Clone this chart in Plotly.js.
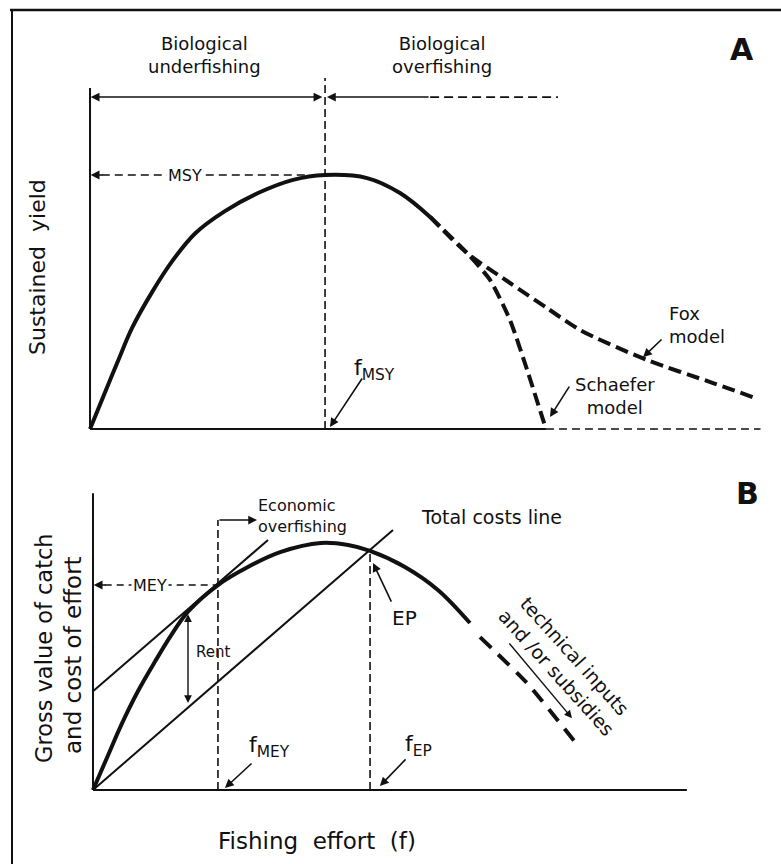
<!DOCTYPE html>
<html>
<head>
<meta charset="utf-8">
<script src="https://cdn.plot.ly/plotly-3.0.1.min.js"></script>
<style>html,body{margin:0;padding:0;background:#fff;}#chart{width:781px;height:864px;}</style>
</head>
<body>
<div id="chart"></div>
<script>
// ---------- Panel A: sustained yield vs fishing effort (effort in units of f_MSY, yield in units of MSY)
const yieldEffortSolid = [0, 0.064, 0.119, 0.179, 0.264, 0.349, 0.447, 0.574, 0.715, 0.860, 1.0, 1.179, 1.319, 1.447];
const yieldSolid       = [0, 0.145, 0.268, 0.398, 0.539, 0.660, 0.770, 0.858, 0.929, 0.980, 1.0, 0.988, 0.929, 0.835];
const schaeferEffort   = [1.447, 1.604, 1.702, 1.787, 1.860, 1.940];
const schaeferYield    = [0.835, 0.693, 0.587, 0.429, 0.232, 0.0];
const foxEffort        = [1.447, 1.604, 1.787, 1.945, 2.085, 2.370, 2.651, 2.843];
const foxYield         = [0.835, 0.693, 0.575, 0.476, 0.390, 0.272, 0.181, 0.118];

// ---------- Panel B: gross value of catch and cost of effort (effort in units of f at max value)
const valueEffortSolid = [0, 0.064, 0.120, 0.192, 0.265, 0.333, 0.406, 0.534, 0.662, 0.803, 0.974, 1.090, 1.184, 1.333, 1.474, 1.611];
const valueSolid       = [0, 0.140, 0.262, 0.400, 0.520, 0.625, 0.722, 0.830, 0.903, 0.964, 1.0, 0.992, 0.968, 0.903, 0.810, 0.676];
const valueEffortDash  = [1.654, 1.855, 2.081];
const valueDash        = [0.619, 0.433, 0.170];
const costEffort       = [0, 1.282];
const costValue        = [0, 1.053];
const tangentEffort    = [0, 0.748];
const tangentValue     = [0.400, 1.012];

// key reference values
const fMSY = 1.0, MSY = 1.0, fSchaeferZero = 1.94, foxEnd = 2.853;
const fMEY = 0.534, MEY = 0.830, fEP = 1.184, EPvalue = 0.968;
const rentEffort = 0.406, rentTop = 0.718, rentBottom = 0.352;

const FONT = '"DejaVu Sans", "Liberation Sans", sans-serif';
const INK = '#111';

const traces = [
  {x: yieldEffortSolid, y: yieldSolid, xaxis:'x', yaxis:'y', mode:'lines',
   line:{color:INK, width:4, shape:'spline', smoothing:1}},
  {x: schaeferEffort, y: schaeferYield, xaxis:'x', yaxis:'y', mode:'lines',
   line:{color:INK, width:4, shape:'spline', smoothing:0.6, dash:'13px,6px'}},
  {x: foxEffort, y: foxYield, xaxis:'x', yaxis:'y', mode:'lines',
   line:{color:INK, width:4, shape:'spline', smoothing:0.8, dash:'13px,6px'}},
  {x: valueEffortSolid, y: valueSolid, xaxis:'x2', yaxis:'y2', mode:'lines',
   line:{color:INK, width:4, shape:'spline', smoothing:1}},
  {x: valueEffortDash, y: valueDash, xaxis:'x2', yaxis:'y2', mode:'lines',
   line:{color:INK, width:4, shape:'spline', smoothing:0.5, dash:'15px,10px'}},
  {x: costEffort, y: costValue, xaxis:'x2', yaxis:'y2', mode:'lines',
   line:{color:INK, width:2}},
  {x: tangentEffort, y: tangentValue, xaxis:'x2', yaxis:'y2', mode:'lines',
   line:{color:INK, width:2}}
];

function seg(xr, yr, x0, y0, x1, y1, w, dash) {
  return {type:'line', xref:xr, yref:yr, x0:x0, y0:y0, x1:x1, y1:y1,
          line:{color:INK, width:w, dash:dash || 'solid'}, layer:'above'};
}

const shapes = [
  // frame
  {type:'line', xref:'paper', yref:'paper', x0:12/781, x1:12/781, y0:1-10/864, y1:0, line:{color:INK, width:2}},
  {type:'line', xref:'paper', yref:'paper', x0:10/781, x1:1, y0:1-10/864, y1:1-10/864, line:{color:INK, width:2.5}},
  // Panel A axes
  seg('x','y', 0, 0, 0, 1.343, 2),
  seg('x','y', 0, 0, fSchaeferZero, 0, 2),
  seg('x','y', fSchaeferZero, 0, foxEnd, 0, 1.6, '8px,5px'),
  seg('x','y', fMSY, 0, fMSY, 1.382, 1.6, '8px,4px'),
  seg('x','y', 0.05, MSY, 0.93, MSY, 1.6, '8px,5px'),
  seg('x','y', 1.447, 1.307, 1.991, 1.307, 1.8, '9px,5px'),
  // Panel B axes
  seg('x2','y2', 0, 0, 0, 1.202, 2),
  seg('x2','y2', 0, 0, 2.538, 0, 2),
  seg('x2','y2', fMEY, 0, fMEY, 1.093, 1.6, '8px,4px'),
  seg('x2','y2', fEP, 0, fEP, EPvalue, 1.6, '8px,4px'),
  seg('x2','y2', 0.05, MEY, fMEY, MEY, 1.6, '7px,5px')
];

function txt(xr, yr, x, y, text, size, extra) {
  return Object.assign({xref:xr, yref:yr, x:x, y:y, text:text, showarrow:false,
    xanchor:'center', yanchor:'middle',
    font:{family:FONT, size:size, color:INK}}, extra || {});
}
function arrow(xr, yr, x, y, ax, ay, extra) {
  return Object.assign({xref:xr, yref:yr, axref:xr, ayref:yr, x:x, y:y, ax:ax, ay:ay,
    text:'', showarrow:true, arrowhead:2, arrowsize:1.1, arrowwidth:1.6, arrowcolor:INK, standoff:0}, extra || {});
}

const annotations = [
  // Panel A labels
  txt('x','y', 0.489, 1.472, 'Biological<br>underfishing', 18),
  txt('x','y', 1.498, 1.472, 'Biological<br>overfishing', 18),
  txt('x','y', 2.774, 1.496, '<b>A</b>', 30),
  txt('x','y', 0.404, MSY, 'MSY', 16, {bgcolor:'#fff'}),
  txt('x','y', 1.209, 0.236, 'f<sub>MSY</sub>', 22),
  txt('x','y', 2.455, 0.409, 'Fox<br>model', 18, {xanchor:'left', align:'left'}),
  txt('x','y', 2.234, 0.130, 'Schaefer<br>model', 18),
  arrow('x','y', 0.003, 1.307, fMSY - 0.005, 1.307, {arrowside:'end+start', startarrowhead:2, startarrowsize:1.1}),
  arrow('x','y', fMSY + 0.008, 1.307, 1.447, 1.307),
  arrow('x','y', 0.003, MSY, 0.06, MSY),
  arrow('x','y', 1.021, 0.008, 1.162, 0.205),
  arrow('x','y', 2.353, 0.283, 2.438, 0.358),
  arrow('x','y', 1.957, 0.047, 2.043, 0.173),
  // Panel B labels
  txt('x2','y2', 0.697, 1.109, 'Economic<br>overfishing', 16, {xanchor:'left', align:'left'}),
  txt('x2','y2', 1.705, 1.105, 'Total costs line', 19),
  txt('x2','y2', 2.799, 1.202, '<b>B</b>', 30),
  txt('x2','y2', 0.244, MEY, 'MEY', 16, {bgcolor:'#fff'}),
  txt('x2','y2', 0.513, 0.559, 'Rent', 15),
  txt('x2','y2', 1.333, 0.696, 'EP', 20),
  txt('x2','y2', 0.756, 0.178, 'f<sub>MEY</sub>', 22),
  txt('x2','y2', 1.393, 0.182, 'f<sub>EP</sub>', 22),
  txt('x2','y2', 2.021, 0.510, 'technical inputs<br>and /or subsidies', 19, {textangle:48}),
  arrow('x2','y2', 0.701, 1.093, fMEY, 1.093),
  arrow('x2','y2', 0.003, MEY, 0.06, MEY),
  arrow('x2','y2', rentEffort, rentBottom, rentEffort, rentTop, {arrowside:'end+start', startarrowhead:2, startarrowsize:1.1, arrowwidth:1.4}),
  arrow('x2','y2', 1.197, 0.919, 1.278, 0.757),
  arrow('x2','y2', 0.564, 0.008, 0.684, 0.113),
  arrow('x2','y2', 1.226, 0.016, 1.342, 0.130),
  arrow('x2','y2', 2.047, 0.291, 1.774, 0.599, {arrowwidth:1.4}),
  // axis titles
  txt('paper','paper', 37/781, 1-267/864, 'Sustained  yield', 22, {textangle:-90}),
  txt('paper','paper', 44/781, 1-648/864, 'Gross value of catch', 22.5, {textangle:-90}),
  txt('paper','paper', 73/781, 1-655/864, 'and cost of effort', 23, {textangle:-90}),
  txt('paper','paper', 317/781, 1-841/864, 'Fishing  effort  (f)', 23)
];

const hidden = {visible:false, showgrid:false, zeroline:false, fixedrange:true};
const layout = {
  width:781, height:864,
  margin:{l:0, r:0, t:0, b:0},
  paper_bgcolor:'#fff', plot_bgcolor:'rgba(0,0,0,0)',
  showlegend:false,
  xaxis: Object.assign({domain:[0,1], range:[-0.383, 2.940], anchor:'y'}, hidden),
  yaxis: Object.assign({domain:[0.4907,1], range:[-0.0433, 1.689], anchor:'x'}, hidden),
  xaxis2: Object.assign({domain:[0,1], range:[-0.3974, 2.9402], anchor:'y2'}, hidden),
  yaxis2: Object.assign({domain:[0,0.4907], range:[-0.2996, 1.417], anchor:'x2'}, hidden),
  shapes: shapes,
  annotations: annotations
};

Plotly.newPlot('chart', traces, layout, {staticPlot:true, displayModeBar:false});
</script>
</body>
</html>
